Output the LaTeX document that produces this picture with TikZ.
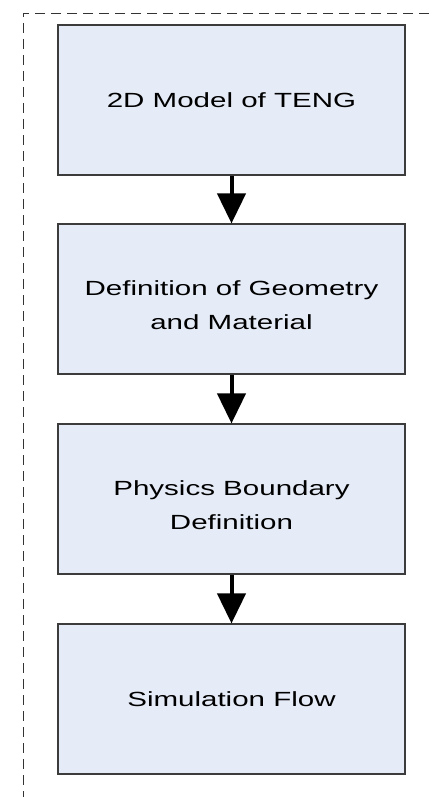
\documentclass[tikz,border=0pt]{standalone}
\usepackage{fontspec}
\setmainfont{Liberation Sans}[FakeStretch=1.44]
\definecolor{boxfill}{RGB}{230,236,247}
\definecolor{boxline}{RGB}{60,60,60}
\usetikzlibrary{arrows.meta,positioning}

\begin{document}
\begin{tikzpicture}[x=1pt, y=-1pt,
    stage/.style={rectangle, minimum width=347pt, minimum height=150pt,
      draw=boxline, line width=1.1pt, fill=boxfill, align=center,
      inner sep=0pt, font=\fontsize{20.5}{33.3}\selectfont},
    twoline/.style={text height=60pt, text depth=0pt},
    arr/.style={-{Triangle[length=30pt, width=28pt]}, line width=4pt, black}
  ]
    \useasboundingbox (0,0) rectangle (431,797);
    % Dashed frame (runs past the right and bottom edges)
    \begin{scope}
      \clip (0,0) rectangle (431,797);
      \draw[black!80, line width=0.9pt, dash pattern=on 10pt off 6pt]
        (445,13) -- (23,13) -- (23,810);
    \end{scope}
    % Stages
    \node[stage] (model) at (231.5, 100) {2D Model of TENG};
    \node[stage, twoline] (geom) at (231.5, 299) {Definition of Geometry\\and Material};
    \node[stage, twoline] (phys) at (231.5, 499) {Physics Boundary\\Definition};
    \node[stage] (sim) at (231.5, 699) {Simulation Flow};
    % Arrows
    \draw[arr] (model.south) -- (geom.north);
    \draw[arr] (geom.south) -- (phys.north);
    \draw[arr] (phys.south) -- (sim.north);
\end{tikzpicture}
\end{document}
